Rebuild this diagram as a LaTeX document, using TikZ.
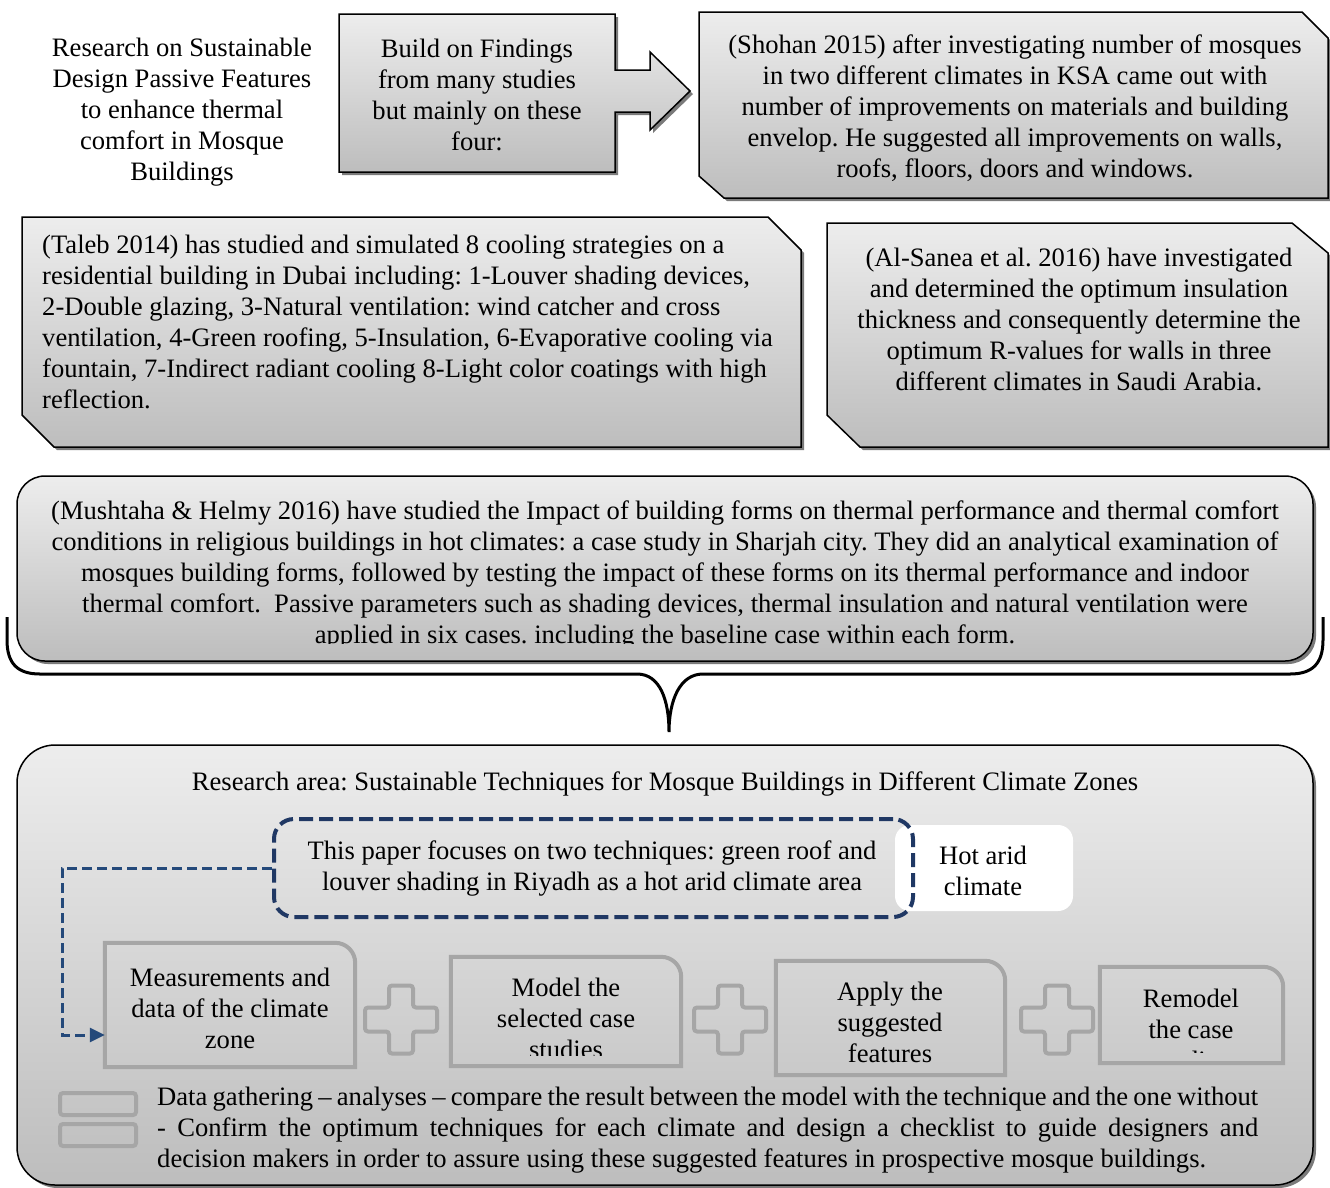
\documentclass[tikz,border=0pt]{standalone}
\usepackage{fontspec}
\setmainfont{Liberation Serif}
\usetikzlibrary{shadows,arrows.meta,calc}
\frenchspacing
\definecolor{boxtop}{HTML}{EDEDED}
\definecolor{boxbot}{HTML}{BDBDBD}
\definecolor{shad}{HTML}{7A7A7A}
\definecolor{navy}{HTML}{203864}
\definecolor{conn}{HTML}{24497A}
\definecolor{outl}{HTML}{A6A6A6}
\tikzset{
  x=1pt, y=1pt,
  txt/.style={font=\fontsize{26.6}{31}\selectfont\frenchspacing, inner sep=0pt, align=center, text=black},
  gradbox/.style={top color=boxtop, bottom color=boxbot, draw=black, line width=1.5pt,
    drop shadow={shadow xshift=3pt, shadow yshift=-3pt, fill=shad, opacity=1}},
  procbox/.style={draw=none, inner sep=0pt},
  outlst/.style={draw=outl, line width=4pt},
  plusmark/.pic={\draw[outlst, rounded corners=3pt] (-12,34) -- (12,34) -- (12,12) -- (36,12) -- (36,-12) -- (12,-12) -- (12,-34) -- (-12,-34) -- (-12,-12) -- (-36,-12) -- (-36,12) -- (-12,12) -- cycle;},
}
\newcommand\oneround[1]{\draw[outlst] (#1.south west) -- (#1.north west) -- ([xshift=-20pt]#1.north east) arc[start angle=90, end angle=0, radius=20pt] -- (#1.south east) -- cycle;}
\begin{document}
\begin{tikzpicture}
\useasboundingbox (0,0) rectangle (1330,-1187);
\clip (0,0) rectangle (1330,-1187);
\fill[white] (0,0) rectangle (1330,-1187);

% ---- top row ----
\node[txt] (title) at (182,-112) {Research on Sustainable\\Design Passive Features\\to enhance thermal\\comfort in Mosque\\Buildings};

\path[gradbox] (339,-14) -- (615,-14) -- (615,-70) -- (650,-70) -- (650,-52) -- (690,-91) -- (650,-130) -- (650,-112) -- (615,-112) -- (615,-172) -- (339,-172) -- cycle;
\node[txt] (build) at (477,-95) {Build on Findings\\from many studies\\but mainly on these\\four:};

\path[gradbox] (699,-12) -- (1302,-12) -- (1328,-38) -- (1328,-198) -- (724,-198) -- (699,-176) -- cycle;
\node[txt] (shohan) at (1015,-108.5) {(Shohan 2015) after investigating number of mosques\\in two different climates in KSA came out with\\number of improvements on materials and building\\envelop. He suggested all improvements on walls,\\roofs, floors, doors and windows.};

% ---- second row ----
\path[gradbox] (22,-217) -- (768,-217) -- (801,-250) -- (801,-447) -- (54,-447) -- (22,-415) -- cycle;
\node[txt, align=left, anchor=west] (taleb) at (42,-322) {(Taleb 2014) has studied and simulated 8 cooling strategies on a\\residential building in Dubai including: 1-Louver shading devices,\\2-Double glazing, 3-Natural ventilation: wind catcher and cross\\ventilation, 4-Green roofing, 5-Insulation, 6-Evaporative cooling via\\fountain, 7-Indirect radiant cooling 8-Light color coatings with high\\reflection.};

\path[gradbox] (827,-223) -- (1292,-223) -- (1328,-253) -- (1328,-447) -- (860,-447) -- (827,-415) -- cycle;
\node[txt] (sanea) at (1079,-319) {(Al-Sanea et al. 2016) have investigated\\and determined the optimum insulation\\thickness and consequently determine the\\optimum R-values for walls in three\\different climates in Saudi Arabia.};

% ---- Mushtaha ----
\path[gradbox, rounded corners=28pt] (17,-476) rectangle (1313,-661);
\begin{scope}
\clip (17,-476) rectangle (1313,-643);
\node[txt] (mush) at (665,-574.5) {(Mushtaha \& Helmy 2016) have studied the Impact of building forms on thermal performance and thermal comfort\\conditions in religious buildings in hot climates: a case study in Sharjah city. They did an analytical examination of\\mosques building forms, followed by testing the impact of these forms on its thermal performance and indoor\\thermal comfort.\ \ Passive parameters such as shading devices, thermal insulation and natural ventilation were\\applied in six cases. including the baseline case within each form.};
\end{scope}

% ---- brace ----
\draw[line width=3pt] (7,-617) -- (7,-640) .. controls (7,-664) and (18,-674) .. (40,-674) -- (637,-674) .. controls (660,-674) and (669,-700) .. (669,-732) .. controls (669,-700) and (680,-674) .. (703,-674) -- (1290,-674) .. controls (1312,-674) and (1323,-664) .. (1323,-640) -- (1323,-617);

% ---- bottom panel ----
\path[gradbox, rounded corners=38pt] (17,-745) rectangle (1313,-1185);
\node[txt] (area) at (665,-784) {Research area: Sustainable Techniques for Mosque Buildings in Different Climate Zones};

\node[fill=white, rounded corners=15pt, minimum width=178pt, minimum height=86pt, inner sep=0pt] (hotbox) at (984,-868) {};
\node[txt] (hot) at (983,-871) {Hot arid\\climate};

\node[draw=navy, line width=4pt, dash pattern=on 14pt off 6pt, rounded corners=20pt, minimum width=639pt, minimum height=98pt, inner sep=0pt] (focus) at (593.5,-868) {};
\node[txt] (focustxt) at (592,-868.5) {This paper focuses on two techniques: green roof and\\louver shading in Riyadh as a hot arid climate area};

% process boxes
\node[procbox, minimum width=250pt, minimum height=124pt] (meas) at (230,-1005) {};
\node[procbox, minimum width=230pt, minimum height=109pt] (model) at (566,-1011.5) {};
\node[procbox, minimum width=229pt, minimum height=114pt] (apply) at (890.5,-1018) {};
\node[procbox, minimum width=183pt, minimum height=96pt] (remod) at (1191.5,-1015) {};
\oneround{meas}
\oneround{model}
\oneround{apply}
\oneround{remod}

\node[txt] (meastxt) at (230,-1008) {Measurements and\\data of the climate\\zone};
\begin{scope}
\clip (453,-959) rectangle (679,-1055);
\node[txt] (modeltxt) at (566,-1018.5) {Model the\\selected case\\studies};
\end{scope}
\node[txt] (applytxt) at (890,-1022.5) {Apply the\\suggested\\features};
\begin{scope}
\clip (1102,-969) rectangle (1281,-1052.5);
\node[txt] (remodtxt) at (1191,-1029.5) {Remodel\\the case\\studies};
\end{scope}

\pic at (401,-1019.5) {plusmark};
\pic at (730,-1019.5) {plusmark};
\pic at (1057,-1019.5) {plusmark};

% connector
\coordinate (corner) at (62,-1035);
\draw[conn, line width=3pt, dash pattern=on 10pt off 5pt, -{Triangle[length=15pt,width=14pt]}] (focus.west) -| (corner) -- (meas.west |- corner);

% bottom icon and text
\draw[outlst, rounded corners=3pt] (60,-1093) rectangle (136,-1115);
\draw[outlst, rounded corners=3pt] (60,-1124) rectangle (136,-1146);
\node[txt, anchor=west, align=justify, text width=1101pt] (concl) at (157,-1130.5) {Data gathering -- analyses -- compare the result between the model with the technique and the one without\linebreak - Confirm the optimum techniques for each climate and design a checklist to guide designers and\linebreak decision makers in order to assure using these suggested features in prospective mosque buildings.};
\end{tikzpicture}
\end{document}
